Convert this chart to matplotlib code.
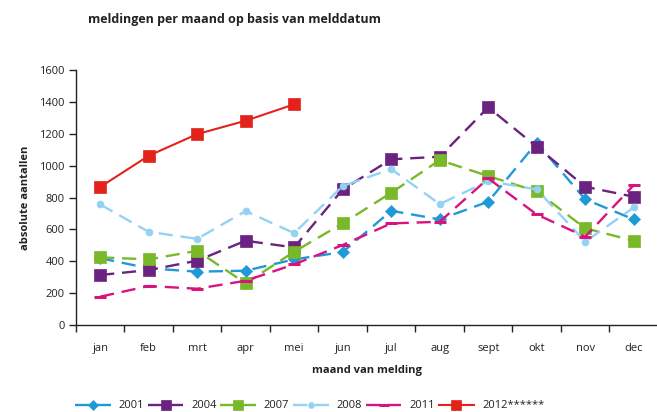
import matplotlib
matplotlib.use("Agg")
import matplotlib.pyplot as plt
from matplotlib.ticker import FixedLocator

plt.rcParams['font.family'] = ['Open Sans', 'DejaVu Sans']

months = ["jan", "feb", "mrt", "apr", "mei", "jun", "jul", "aug", "sept", "okt", "nov", "dec"]
y2001 = [420, 356, 335, 341, 412, 458, 717, 663, 774, 1144, 789, 663]
y2004 = [314, 345, 404, 529, 487, 851, 1040, 1056, 1366, 1119, 868, 805]
y2007 = [425, 412, 466, 262, 460, 638, 830, 1035, 935, 839, 607, 529]
y2008 = [757, 585, 541, 715, 577, 872, 979, 759, 903, 851, 523, 738]
y2011 = [178, 245, 228, 278, 381, 502, 638, 648, 920, 694, 554, 878]
y2012 = [866, 1062, 1198, 1282, 1385]

dash = (0, (6, 3.3))
series = [
    ("2001", y2001, "#1f9ad6", "D", 6.5, dash, 1.7),
    ("2004", y2004, "#6a2380", "s", 8, dash, 1.7),
    ("2007", y2007, "#79b829", "s", 8, dash, 1.7),
    ("2008", y2008, "#93d2f2", "o", 5, dash, 1.7),
    ("2011", y2011, "#d7137f", "_", 8, dash, 1.7),
    ("2012******", y2012, "#e3231b", "s", 8, "-", 1.5),
]

fig = plt.figure(figsize=(6.57, 4.12), dpi=100)
ax = fig.add_axes([0.1155, 0.211, 0.8860, 0.619])

for label, vals, col, mk, ms, ls, lw in series:
    xs = list(range(len(vals)))
    ax.plot(xs, vals, color=col, linestyle=ls, linewidth=lw, marker=mk,
            markersize=ms, markerfacecolor=col, markeredgecolor=col,
            markeredgewidth=2.2 if mk == "_" else 0.5, label=label, clip_on=False)

ax.set_xlim(-0.5, 11.5)
ax.set_ylim(0, 1600)
ax.set_yticks(range(0, 1601, 200))
ax.set_xticks(range(12))
ax.set_xticklabels(months)
ax.xaxis.set_minor_locator(FixedLocator([i - 0.5 for i in range(13)]))
ax.tick_params(axis='x', which='major', length=0, pad=13, labelsize=8, colors='#222222')
ax.tick_params(axis='x', which='minor', length=5, width=1, direction='out', color='#222222')
ax.tick_params(axis='y', length=5, width=1, direction='out', labelsize=8, colors='#222222', pad=3)
for s in ['top', 'right']:
    ax.spines[s].set_visible(False)
for s in ['left', 'bottom']:
    ax.spines[s].set_color('#222222')
    ax.spines[s].set_linewidth(1)

ax.set_xlabel("maand van melding", fontsize=8, fontweight='bold', labelpad=8, color='#222222')
ax.set_ylabel("absolute aantallen", fontsize=8, fontweight='bold', labelpad=6, color='#222222')

fig.text(88 / 657, 1 - 20 / 412, "meldingen per maand op basis van melddatum",
         fontsize=9, fontweight='bold', ha='left', va='center', color='#222222')

leg = fig.legend(loc='center left', bbox_to_anchor=(75 / 657, 1 - 406 / 412), ncol=6,
                 frameon=False, fontsize=8, handlelength=3.2, handletextpad=0.7,
                 columnspacing=0.35, borderaxespad=0, borderpad=0, markerscale=0.85)
for t in leg.get_texts():
    t.set_color('#222222')

fig.savefig("out.png", dpi=100)
